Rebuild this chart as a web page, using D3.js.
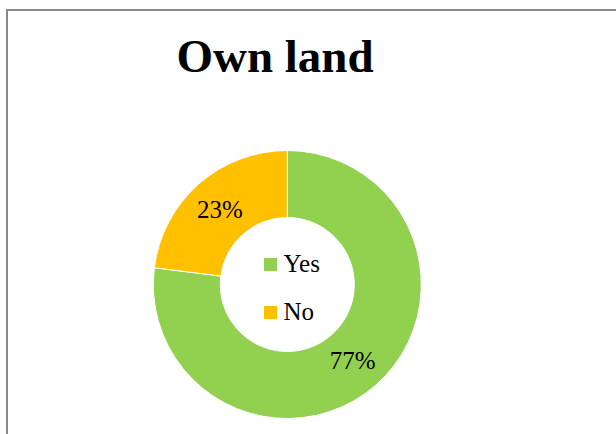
<!DOCTYPE html>
<html>
<head>
<meta charset="utf-8">
<script src="https://cdn.jsdelivr.net/npm/d3@7"></script>
<style>
  html, body { margin: 0; padding: 0; background: #fff; }
  svg { display: block; }
</style>
</head>
<body>
<svg id="chart" width="616" height="434"></svg>
<script>
// Survey answers for land ownership
const categories = ["Yes", "No"];
const shares = [77, 23];
const colors = ["#92D050", "#FFC000"];
const title = "Own land";

const svg = d3.select("#chart");
const W = 616, H = 434;
const serif = "'Liberation Serif', 'Times New Roman', serif";

// Chart frame (extends past the right and bottom edges)
svg.append("rect")
  .attr("x", 7).attr("y", 10)
  .attr("width", W + 20).attr("height", H + 20)
  .attr("fill", "#fff")
  .attr("stroke", "#898989")
  .attr("stroke-width", 2);

// Title
svg.append("text")
  .attr("x", 275).attr("y", 72)
  .attr("text-anchor", "middle")
  .attr("font-family", serif)
  .attr("font-weight", "bold")
  .attr("font-size", 47)
  .attr("fill", "#000")
  .text(title);

// Donut
const cx = 287.3, cy = 284.5, outerR = 134, innerR = 67;
const g = svg.append("g").attr("transform", `translate(${cx},${cy})`);

const data = categories.map((c, i) => ({ cat: c, value: shares[i], color: colors[i] }));
const pie = d3.pie().value(d => d.value).sort(null);
const arc = d3.arc().innerRadius(innerR).outerRadius(outerR);
const arcs = pie(data);

g.selectAll("path.slice")
  .data(arcs)
  .join("path")
  .attr("class", "slice")
  .attr("d", arc)
  .attr("fill", d => d.data.color)
  .attr("stroke", "#fff")
  .attr("stroke-width", 1);

// Percentage labels at slice centroids
const total = d3.sum(shares);
g.selectAll("text.pct")
  .data(arcs)
  .join("text")
  .attr("class", "pct")
  .attr("x", d => arc.centroid(d)[0] - 1)
  .attr("y", d => arc.centroid(d)[1])
  .attr("dy", "0.35em")
  .attr("text-anchor", "middle")
  .attr("font-family", serif)
  .attr("font-size", 25)
  .attr("fill", "#000")
  .text(d => Math.round(d.data.value / total * 100) + "%");

// Legend inside the hole
const legend = svg.append("g").attr("transform", "translate(264,258)");
const row = legend.selectAll("g.item")
  .data(data)
  .join("g")
  .attr("class", "item")
  .attr("transform", (d, i) => `translate(0,${i * 48})`);

row.append("rect")
  .attr("width", 13).attr("height", 13)
  .attr("fill", d => d.color);

row.append("text")
  .attr("x", 19.5).attr("y", 14)
  .attr("font-family", serif)
  .attr("font-size", 25)
  .attr("fill", "#000")
  .text(d => d.cat);
</script>
</body>
</html>
